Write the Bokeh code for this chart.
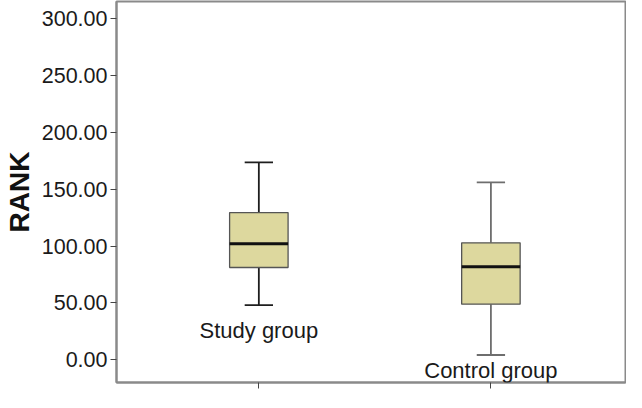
from bokeh.plotting import figure
from bokeh.models import Range1d, FixedTicker, NumeralTickFormatter, ColumnDataSource, LabelSet
from bokeh.embed import file_html
from bokeh.resources import INLINE
from bokeh.core.properties import value

groups = ["Study group", "Control group"]
positions = [1, 2]
whisker_low = [48.0, 4.2]
q1 = [81.1, 48.9]
median = [101.9, 81.7]
q3 = [129.4, 102.8]
whisker_high = [173.6, 156.0]
y_ticks = [0, 50, 100, 150, 200, 250, 300]

FONT = "Liberation Sans"
BOX_W = 0.252
CAP_W = 0.122

p = figure(width=626, height=392, output_backend="svg", toolbar_location=None,
           x_range=Range1d(0.3866, 2.58), y_range=Range1d(-20, 315))
p.min_border_left = 103
p.min_border_right = 1
p.min_border_top = 1
p.min_border_bottom = 0
p.background_fill_color = "white"
p.border_fill_color = "white"
p.outline_line_color = "#8a8a8a"
p.outline_line_width = 2
p.grid.visible = False

half_box = [BOX_W / 2] * len(positions)
half_cap = [CAP_W / 2] * len(positions)
src = ColumnDataSource(dict(
    x=positions, lo=whisker_low, q1=q1, med=median, q3=q3, hi=whisker_high, label=groups,
    bx0=[x - w for x, w in zip(positions, half_box)], bx1=[x + w for x, w in zip(positions, half_box)],
    cx0=[x - w for x, w in zip(positions, half_cap)], cx1=[x + w for x, w in zip(positions, half_cap)],
    wc=["#1e1e1e", "#6e6e6e"], yoff=[-13, -3]))

# whiskers
p.segment(x0="x", y0="hi", x1="x", y1="q3", source=src, line_color="wc", line_width=1.8)
p.segment(x0="x", y0="lo", x1="x", y1="q1", source=src, line_color="wc", line_width=1.8)
# caps
p.segment(x0="cx0", y0="hi", x1="cx1", y1="hi", source=src, line_color="wc", line_width=1.8)
p.segment(x0="cx0", y0="lo", x1="cx1", y1="lo", source=src, line_color="wc", line_width=1.8)
# boxes
p.quad(left="bx0", right="bx1", bottom="q1", top="q3", source=src,
       fill_color="#ddd89e", line_color="#555555", line_width=1.3)
# median
p.segment(x0="bx0", y0="med", x1="bx1", y1="med", source=src, line_color="#111111", line_width=3)

# category labels inside plot
labels = LabelSet(x="x", y="lo", text="label", source=src, text_align="center",
                  text_baseline="top", y_offset="yoff", text_font=value(FONT),
                  text_font_size="22px", text_color="#1a1a1a")
p.add_layout(labels)

# y axis
p.yaxis.ticker = FixedTicker(ticks=y_ticks)
p.yaxis.formatter = NumeralTickFormatter(format="0.00")
p.yaxis.axis_label = "RANK"
p.yaxis.axis_label_text_font = FONT
p.yaxis.axis_label_text_font_style = "bold"
p.yaxis.axis_label_text_font_size = "28px"
p.yaxis.axis_label_text_color = "#111111"
p.yaxis.axis_label_standoff = 4
p.yaxis.major_label_text_font = FONT
p.yaxis.major_label_text_font_size = "21.5px"
p.yaxis.major_label_text_color = "#1a1a1a"
p.yaxis.major_label_standoff = 3
p.yaxis.major_tick_out = 6
p.yaxis.major_tick_in = 0
p.yaxis.minor_tick_line_color = None
p.yaxis.axis_line_color = "#8a8a8a"
p.yaxis.axis_line_width = 2
p.yaxis.major_tick_line_color = "#444444"

# x axis
p.xaxis.ticker = FixedTicker(ticks=positions)
p.xaxis.major_label_overrides = {1: " ", 2: " "}
p.xaxis.major_label_text_font_size = "1px"
p.xaxis.major_label_standoff = 0
p.xaxis.major_tick_out = 6
p.xaxis.major_tick_in = 0
p.xaxis.minor_tick_line_color = None
p.xaxis.axis_line_color = "#8a8a8a"
p.xaxis.axis_line_width = 2
p.xaxis.major_tick_line_color = "#444444"

open("out.html", "w").write(file_html(p, INLINE))
